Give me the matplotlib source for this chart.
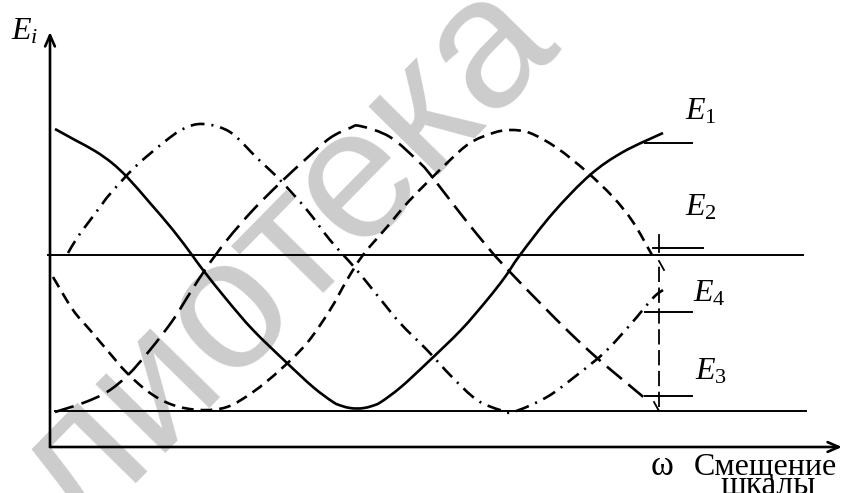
import matplotlib
matplotlib.use("Agg")
import matplotlib.pyplot as plt
from matplotlib.path import Path
from matplotlib.patches import PathPatch

plt.rcParams["mathtext.fontset"] = "custom"
plt.rcParams["mathtext.rm"] = "Liberation Serif"
plt.rcParams["mathtext.it"] = "Liberation Serif:italic"
plt.rcParams["lines.scale_dashes"] = False

# Scale shift (x) and level E_i (y), arbitrary units
e1_x = [0.5, 2.5, 4.5, 6.2, 7.8, 10.0, 12.3, 14.2, 15.3, 17.7, 20.3, 23.7, 26.3,
        28.3, 29.2, 30.0, 30.7, 31.4, 32.2, 33.1, 35.1, 37.7, 41.1, 43.7, 45.5,
        47.0, 50.3, 54.0, 57.3, 61.3]
e1_y = [31.8, 30.7, 29.6, 28.4, 26.9, 24.4, 21.7, 19.2, 17.7, 14.7, 11.7, 8.4, 6.0,
        4.5, 4.1, 3.9, 3.85, 3.9, 4.1, 4.5, 6.0, 8.4, 11.7, 14.7, 17.0,
        19.2, 23.4, 27.2, 29.5, 31.4]

e2_x = [0.3, 2.3, 4.0, 5.7, 7.7, 10.0, 12.3, 15.0, 17.7, 20.3, 23.0, 25.7, 28.0,
        29.7, 31.3, 33.7, 36.0, 39.7, 42.0, 44.3, 46.0, 48.0, 50.7, 53.7, 56.3,
        58.3, 60.2]
e2_y = [17.0, 13.7, 11.7, 9.7, 7.4, 5.4, 4.2, 3.7, 4.0, 5.5, 7.7, 10.4, 13.7,
        16.7, 19.2, 22.0, 24.7, 28.4, 30.4, 31.4, 31.7, 31.4, 29.9, 27.5, 25.0,
        22.5, 19.2]

e3_x = [0.5, 3.3, 5.7, 7.8, 10.0, 12.3, 14.0, 15.7, 17.7, 20.3, 23.0, 25.7, 28.0,
        30.0, 31.0, 34.0, 37.0, 38.3, 41.0, 44.0, 46.0, 49.0, 52.0, 54.7, 57.3,
        59.7]
e3_y = [3.5, 4.4, 5.5, 7.2, 9.7, 12.7, 15.4, 18.0, 20.7, 23.7, 26.4, 28.9, 30.9,
        31.9, 32.1, 31.0, 28.4, 26.9, 23.4, 19.7, 17.5, 14.4, 11.4, 8.9, 6.7,
        4.7]

e4_x = [1.8, 2.7, 3.8, 5.0, 6.0, 8.5, 11.3, 13.3, 15.3, 18.0, 20.7, 23.0, 25.7,
        28.0, 30.5, 32.7, 35.0, 37.7, 40.2, 42.7, 45.0, 46.3, 49.7, 52.7, 55.5,
        58.0, 60.3, 61.3]
e4_y = [19.4, 20.9, 22.4, 24.0, 25.3, 28.0, 30.4, 31.8, 32.3, 31.5, 28.9, 26.7,
        23.7, 20.7, 17.9, 15.2, 12.4, 9.7, 7.0, 4.7, 3.7, 3.5, 5.0, 7.2, 9.5,
        12.2, 14.9, 15.7]

upper_level = 19.2
lower_level = 3.6
marker_x = 60.9

curve_labels = ["$E_1$", "$E_2$", "$E_4$", "$E_3$"]
label_x = [63.5, 63.5, 64.3, 64.5]
label_y = [32.8, 23.1, 14.5, 6.7]
leader_x0 = [59.5, 60.3, 59.5, 59.5]
leader_x1 = [64.2, 65.3, 64.2, 64.2]
leader_y = [30.4, 19.9, 13.5, 5.1]


def smooth_path(xs, ys):
    """Cubic Bezier path through every given point (Catmull-Rom tangents)."""
    pts = list(zip(xs, ys))
    n = len(pts)
    verts = [pts[0]]
    codes = [Path.MOVETO]
    for i in range(n - 1):
        p0 = pts[i - 1] if i > 0 else pts[i]
        p1 = pts[i]
        p2 = pts[i + 1]
        p3 = pts[i + 2] if i + 2 < n else pts[i + 1]
        c1 = (p1[0] + (p2[0] - p0[0]) / 6, p1[1] + (p2[1] - p0[1]) / 6)
        c2 = (p2[0] - (p3[0] - p1[0]) / 6, p2[1] - (p3[1] - p1[1]) / 6)
        verts += [c1, c2, p2]
        codes += [Path.CURVE4] * 3
    return Path(verts, codes)


fig = plt.figure(figsize=(8.43, 4.93), dpi=100)
ax = fig.add_axes([0, 0, 1, 1])
ax.set_xlim(-5.0, 79.3)
ax.set_ylim(-4.6, 44.7)
ax.axis("off")

# faint background stamp
ax.text(23.7, 18.7, "лиотека", family="Liberation Sans", fontsize=134,
        color="#cccccc", rotation=45.5, rotation_mode="anchor",
        ha="center", va="center", zorder=0)

# coordinate axes with open arrowheads
arrow_kw = dict(arrowstyle="->,head_length=0.8,head_width=0.35", lw=1.9,
                color="black", shrinkA=0, shrinkB=0)
ax.annotate("", xy=(79.2, 0), xytext=(0, 0), arrowprops=arrow_kw)
ax.annotate("", xy=(0, 41.5), xytext=(0, 0), arrowprops=arrow_kw)

# reference levels
ax.plot([-0.2, 75.3], [upper_level, upper_level], color="black", lw=1.4)
ax.plot([0.5, 75.6], [lower_level, lower_level], color="black", lw=1.4)

# level curves
styles = [
    (e1_x, e1_y, "solid"),
    (e2_x, e2_y, (0, (8.5, 5.0))),
    (e3_x, e3_y, (0, (14.0, 6.0))),
    (e4_x, e4_y, (0, (10.0, 5.0, 1.5, 5.0))),
]
for xs, ys, ls in styles:
    ax.add_patch(PathPatch(smooth_path(xs, ys), fill=False, edgecolor="black",
                           lw=1.9, linestyle=ls, capstyle="butt", zorder=3))

# range marker between the two reference levels
ax.plot([marker_x, marker_x], [lower_level + 0.4, upper_level - 0.6], color="black",
        lw=1.3, dashes=(11.0, 4.0))
ax.plot([marker_x, marker_x], [upper_level + 0.3, upper_level + 2.0], color="black", lw=1.3)
ax.plot([marker_x - 0.5, marker_x], [lower_level + 0.9, lower_level], color="black", lw=1.3)
ax.plot([marker_x + 0.5, marker_x], [upper_level - 1.5, upper_level - 0.6], color="black", lw=1.3)

for txt, lx, ly, x0, x1, yy in zip(curve_labels, label_x, label_y, leader_x0, leader_x1, leader_y):
    ax.plot([x0, x1], [yy, yy], color="black", lw=1.4)
    ax.text(lx, ly, txt, fontsize=23, ha="left", va="baseline")

ax.text(-3.9, 40.7, "$E_i$", fontsize=23, ha="left", va="baseline")
ax.text(61.2, -2.8, "ω", family="Liberation Serif", fontsize=25, ha="center", va="baseline")
ax.text(78.7, -2.8, "Смещение", family="Liberation Serif", fontsize=23, ha="right", va="baseline")
ax.text(71.8, -4.7, "шкалы", family="Liberation Serif", fontsize=24, ha="center", va="baseline")

fig.savefig("out.png", dpi=100)
